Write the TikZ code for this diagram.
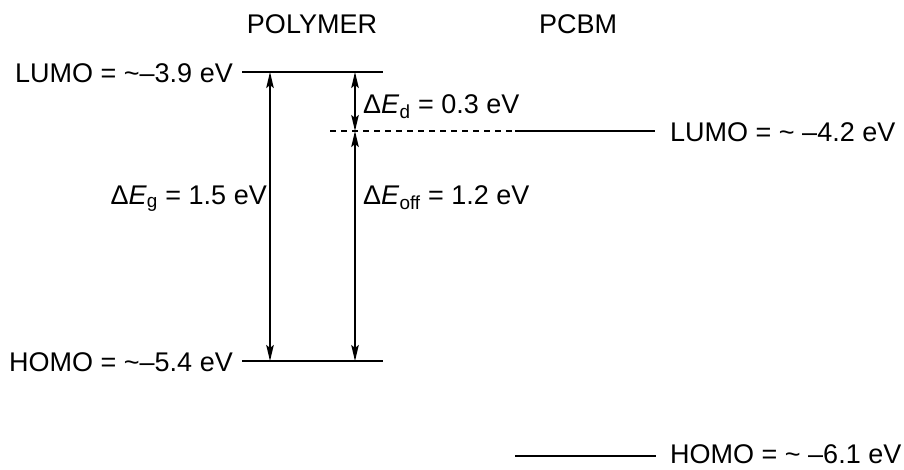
\documentclass[tikz,border=0pt]{standalone}
\usepackage{fontspec}
\setmainfont{Liberation Sans}
\usetikzlibrary{arrows.meta}
\newcommand{\tld}{\char"007E\relax}
\begin{document}
\begin{tikzpicture}[x=1pt,y=-1pt,
  lbl/.style={inner sep=0pt,font=\fontsize{27}{32}\selectfont},
  level/.style={line width=1.9pt},
  dashlevel/.style={line width=1.2pt,dash pattern=on 6pt off 5pt},
  gap/.style={line width=1.8pt,{Stealth[length=16pt,width=7.5pt,inset=3pt]}-{Stealth[length=16pt,width=7.5pt,inset=3pt]}}]
\useasboundingbox (0,0) rectangle (904,469);
% headers
\node[lbl,anchor=base] (poly) at (312,33) {POLYMER};
\node[lbl,anchor=base] (pcbm) at (578,33) {PCBM};
% level coordinates
\coordinate (pL1) at (242,72);
\coordinate (pL2) at (383,72);
\coordinate (pH1) at (242,361);
\coordinate (pH2) at (383,361);
\coordinate (dS) at (330,131);
\coordinate (cL1) at (515,131);
\coordinate (cL2) at (655,131);
\coordinate (cH1) at (515,456);
\coordinate (cH2) at (656,456);
\coordinate (a1t) at (270,72);
\coordinate (a1b) at (270,361);
\coordinate (a2t) at (355,72);
\coordinate (a2m) at (355,131);
\coordinate (a2b) at (355,361);
% levels
\draw[level] (pL1) -- (pL2);
\draw[level] (pH1) -- (pH2);
\draw[dashlevel] (dS) -- (cL1);
\draw[level] (cL1) -- (cL2);
\draw[level] (cH1) -- (cH2);
% gaps
\draw[gap] (a1t) -- (a1b);
\draw[gap] (a2t) -- (a2m);
\draw[gap] (a2m) -- (a2b);
% labels
\node[lbl,anchor=base east] (lumoP) at (233,82) {LUMO = \tld–3.9 eV};
\node[lbl,anchor=base east] (homoP) at (233,371) {HOMO = \tld–5.4 eV};
\node[lbl,anchor=base west] (lumoC) at (670,141) {LUMO = \tld\ –4.2 eV};
\node[lbl,anchor=base west] (homoC) at (670,463) {HOMO = \tld\ –6.1 eV};
\node[lbl,anchor=base east] (eg) at (267,204) {Δ\textit{E}\textsubscript{g} = 1.5 eV};
\node[lbl,anchor=base west] (eoff) at (363,204) {Δ\textit{E}\textsubscript{off} = 1.2 eV};
\node[lbl,anchor=base west] (ed) at (363,113) {Δ\textit{E}\textsubscript{d} = 0.3 eV};
\end{tikzpicture}
\end{document}
